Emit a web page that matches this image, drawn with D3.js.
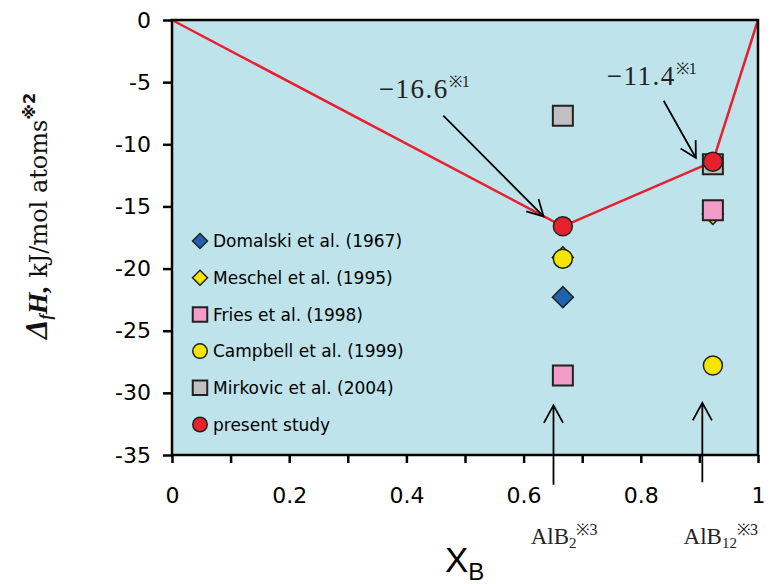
<!DOCTYPE html>
<html>
<head>
<meta charset="utf-8">
<script src="https://cdn.jsdelivr.net/npm/d3@7"></script>
<style>
  html, body { margin: 0; padding: 0; background: #fff; overflow: hidden; }
  svg { display: block; }
  .tick text { font-family: "DejaVu Sans", sans-serif; font-size: 22px; fill: #000; }
</style>
</head>
<body>
<div id="chart"></div>
<script>
// compositions of the two borides (x_B)
const compounds = ["AlB2", "AlB12"]
const compoundX = [0.667, 0.923]

// enthalpy of formation, kJ/mol atoms, one value per compound (null = none)
const domalski = [-22.3, null]
const meschel = [-19.1, -15.6]
const fries = [-28.6, -15.3]
const campbell = [-19.2, -27.8]
const mirkovic = [-7.7, -11.6]
const present = [-16.6, -11.4]

// convex hull of the present study
const hullX = [0, 0.667, 0.923, 1]
const hullY = [0, -16.6, -11.4, 0]

const xTicks = [0, 0.1, 0.2, 0.3, 0.4, 0.5, 0.6, 0.7, 0.8, 0.9, 1]
const xTickLabels = ["0", "", "0.2", "", "0.4", "", "0.6", "", "0.8", "", "1"]
const yTicks = [0, -5, -10, -15, -20, -25, -30, -35]

const series = [
  { name: "Domalski et al. (1967)", values: domalski, shape: "diamond", fill: "#1f63b0" },
  { name: "Meschel et al. (1995)", values: meschel, shape: "diamond", fill: "#f5e400" },
  { name: "Fries et al. (1998)", values: fries, shape: "square", fill: "#f09cc6" },
  { name: "Campbell et al. (1999)", values: campbell, shape: "circle", fill: "#f5e400" },
  { name: "Mirkovic et al. (2004)", values: mirkovic, shape: "square", fill: "#c0c0c0" },
  { name: "present study", values: present, shape: "circle", fill: "#e8202e" },
]

const width = 770
const height = 584
const margin = { top: 20, right: 12, bottom: 129, left: 172 }
const innerWidth = width - margin.left - margin.right
const innerHeight = height - margin.top - margin.bottom

const svg = d3.select("#chart")
  .append("svg")
  .attr("width", width)
  .attr("height", height)

const g = svg.append("g")
  .attr("transform", `translate(${margin.left}, ${margin.top})`)

const x = d3.scaleLinear().domain([0, 1]).range([0, innerWidth])
const y = d3.scaleLinear().domain([0, -35]).range([0, innerHeight])

g.append("rect")
  .attr("width", innerWidth)
  .attr("height", innerHeight)
  .attr("fill", "#bee3eb")

// axes
const xAxis = d3.axisBottom(x)
  .tickValues(xTicks)
  .tickFormat((d, i) => xTickLabels[i])
  .tickSize(8)
  .tickPadding(24)

const yAxis = d3.axisLeft(y)
  .tickValues(yTicks)
  .tickFormat(d3.format("d"))
  .tickSize(9)
  .tickPadding(12)

g.append("g")
  .attr("transform", `translate(0, ${innerHeight})`)
  .call(xAxis)
  .call((ax) => ax.select(".domain").remove())
  .call((ax) => ax.selectAll(".tick line").attr("stroke", "#000").attr("stroke-width", 2.5))
  .call((ax) => ax.selectAll(".tick text").filter(function () { return this.textContent === "" }).remove())

g.append("g")
  .call(yAxis)
  .call((ax) => ax.select(".domain").remove())
  .call((ax) => ax.selectAll(".tick line").attr("stroke", "#000").attr("stroke-width", 2.5))
  .call((ax) => ax.selectAll(".tick text").text((d) => String(d)))

// hull line
const line = d3.line()
  .x((d) => x(d[0]))
  .y((d) => y(d[1]))

g.append("path")
  .datum(d3.zip(hullX, hullY))
  .attr("fill", "none")
  .attr("stroke", "#e8202e")
  .attr("stroke-width", 2.5)
  .attr("d", line)

/**
 * Draws a marker of the given shape centred on (cx, cy).
 */
function marker(sel, shape, cx, cy, span, fill) {
  if (shape === "circle") {
    return sel.append("circle")
      .attr("cx", cx).attr("cy", cy).attr("r", span / 2)
      .attr("fill", fill).attr("stroke", "#222").attr("stroke-width", 1.5)
  }
  const side = shape === "diamond" ? span / Math.SQRT2 : span
  const rot = shape === "diamond" ? 45 : 0
  return sel.append("path")
    .attr("d", d3.symbol(d3.symbolSquare, side * side)())
    .attr("transform", `translate(${cx}, ${cy}) rotate(${rot})`)
    .attr("fill", fill)
    .attr("stroke", "#222")
    .attr("stroke-width", shape === "square" ? 2 : 1.5)
}

const plotSpan = { circle: 19, square: 20, diamond: 21 }
series.forEach((s) => {
  s.values.forEach((v, i) => {
    if (v === null) return
    marker(g, s.shape, x(compoundX[i]), y(v), plotSpan[s.shape], s.fill)
  })
})

// legend
const legendSpan = { circle: 14.5, square: 14.5, diamond: 15 }
const legend = g.append("g").attr("transform", "translate(28, 221)")
series.forEach((s, i) => {
  const row = legend.append("g").attr("transform", `translate(0, ${i * 36.7})`)
  marker(row, s.shape, 0, 0, legendSpan[s.shape], s.fill)
  row.append("text")
    .attr("x", 13)
    .attr("dy", "0.36em")
    .attr("font-family", "DejaVu Sans, sans-serif")
    .attr("font-size", 17)
    .text(s.name)
})

// arrows: [x1, y1, x2, y2] in data units, head at the second point
const valueArrows = [[0.463, -7.7, 0.634, -15.8], [0.839, -6.5, 0.894, -11.1]]
const compoundArrows = [[0.651, -37.4, 0.651, -31.0], [0.905, -37.2, 0.905, -30.8]]

function arrow(sel, [x1, y1, x2, y2], headLen) {
  const ax = x(x1), ay = y(y1), bx = x(x2), by = y(y2)
  const ang = Math.atan2(ay - by, ax - bx)
  const spread = 0.5
  const p = d3.path()
  p.moveTo(ax, ay)
  p.lineTo(bx, by)
  p.moveTo(bx + headLen * Math.cos(ang + spread), by + headLen * Math.sin(ang + spread))
  p.lineTo(bx, by)
  p.lineTo(bx + headLen * Math.cos(ang - spread), by + headLen * Math.sin(ang - spread))
  sel.append("path")
    .attr("d", p.toString())
    .attr("fill", "none")
    .attr("stroke", "#000")
    .attr("stroke-width", 1.8)
}

valueArrows.forEach((a) => arrow(g, a, 18))
compoundArrows.forEach((a) => arrow(g, a, 20))

// value labels above the arrows
const valueLabels = [
  { text: "\u221216.6", x: 0.353, y: -6.25 },
  { text: "\u221211.4", x: 0.742, y: -5.2 },
]
valueLabels.forEach((d) => {
  const t = g.append("text")
    .attr("x", x(d.x))
    .attr("y", y(d.y))
    .attr("font-family", "Liberation Serif, serif")
    .attr("font-size", 27)
    .attr("letter-spacing", 1.5)
    .attr("fill", "#222")
  t.append("tspan").text(d.text)
  t.append("tspan").attr("font-size", 16).attr("dy", -11).attr("letter-spacing", 0).text("\u203B1")
})

// compound labels under the axis
const compoundLabelX = [0.612, 0.873]
compounds.forEach((c, i) => {
  const t = g.append("text")
    .attr("x", x(compoundLabelX[i]))
    .attr("y", y(-42.2))
    .attr("font-family", "Liberation Serif, serif")
    .attr("font-size", 23)
    .attr("fill", "#222")
  t.append("tspan").text("AlB")
  t.append("tspan").attr("font-size", 15).attr("dy", 4).text(c.slice(3))
  t.append("tspan").attr("font-size", 16).attr("dy", -13).text("\u203B3")
})

// frame
g.append("rect")
  .attr("width", innerWidth)
  .attr("height", innerHeight)
  .attr("fill", "none")
  .attr("stroke", "#000")
  .attr("stroke-width", 2.5)

// axis titles
const xTitle = svg.append("text")
  .attr("x", margin.left + innerWidth / 2 - 20)
  .attr("y", 572)
  .attr("font-family", "Liberation Sans, Arial, sans-serif")
  .attr("font-size", 35)
xTitle.append("tspan").text("X")
xTitle.append("tspan").attr("font-size", 24).attr("dy", 8).text("B")

const yTitle = svg.append("text")
  .attr("transform", "translate(47, 216) rotate(-90)")
  .attr("text-anchor", "middle")
  .attr("fill", "#111")
yTitle.append("tspan")
  .attr("font-family", "Liberation Serif, serif")
  .attr("font-style", "italic").attr("font-weight", "bold")
  .attr("font-size", 31).text("\u0394")
yTitle.append("tspan")
  .attr("font-family", "Liberation Serif, serif")
  .attr("font-style", "italic").attr("font-weight", "bold")
  .attr("font-size", 16).attr("dy", 4).text("f")
yTitle.append("tspan")
  .attr("font-family", "Liberation Serif, serif")
  .attr("font-style", "italic").attr("font-weight", "bold")
  .attr("font-size", 28).attr("dy", -4).text("H,")
yTitle.append("tspan")
  .attr("font-family", "'DejaVu Serif', serif")
  .attr("font-size", 24)
  .text(" kJ/mol atoms")
yTitle.append("tspan")
  .attr("font-family", "DejaVu Sans, sans-serif")
  .attr("font-weight", "bold")
  .attr("font-size", 16).attr("dy", -12).text("\u203B2")
</script>
</body>
</html>
